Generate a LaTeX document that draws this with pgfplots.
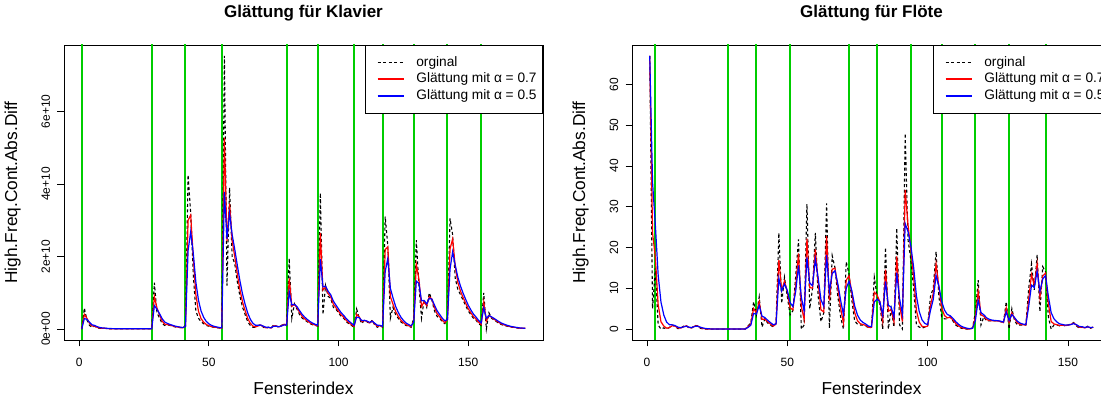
\documentclass[border=0pt]{standalone}
\usepackage{fontspec}
\setmainfont{Liberation Sans}
\usepackage{pgfplots}
\usepackage{pgfplotstable}
\pgfplotsset{compat=1.18}
\definecolor{grn}{RGB}{0,205,0}

\pgfplotstableread{
x o r b
1 0 0 0
2 .58 .406 .29
3 .25 .297 .27
4 .1 .159 .185
5 .05 .083 .118
6 .08 .081 .099
7 .03 .045 .065
8 .02 .028 .042
9 .02 .022 .031
10 .02 .02 .026
11 .01 .013 .018
12 .01 .011 .014
13 .01 .01 .012
14 .01 .01 .011
15 .01 .01 .01
16 .01 .01 .01
17 .01 .01 .01
18 .01 .01 .01
19 .01 .01 .01
20 .01 .01 .01
21 .01 .01 .01
22 .01 .01 .01
23 .01 .01 .01
24 .01 .01 .01
25 .01 .01 .01
26 .01 .01 .01
27 .01 .01 .01
28 .01 .01 .01
29 1.28 .899 .645
30 .45 .585 .548
31 .3 .386 .424
32 .15 .221 .287
33 .1 .136 .194
34 .12 .125 .157
35 .1 .108 .128
36 .08 .088 .104
37 .06 .068 .082
38 .05 .055 .066
39 .04 .045 .053
40 .03 .035 .042
41 .1 .081 .071
42 4.25 3.0 2.161
43 3.2 3.14 2.68
44 1.5 1.992 2.09
45 .5 .948 1.295
46 .3 .494 .798
47 .2 .288 .499
48 .15 .191 .325
49 .1 .127 .212
50 .08 .094 .146
51 .06 .07 .103
52 .05 .056 .077
53 .04 .045 .058
54 .03 .034 .044
55 .02 .024 .032
56 7.53 5.278 3.781
57 1.2 2.423 2.49
58 3.9 3.457 3.195
59 2.0 2.437 2.598
60 1.8 1.991 2.199
61 1.3 1.507 1.75
62 .9 1.082 1.325
63 .6 .745 .963
64 .4 .504 .681
65 .2 .291 .441
66 .1 .157 .27
67 .05 .082 .16
68 .05 .06 .105
69 .1 .088 .103
70 .12 .11 .111
71 .05 .068 .081
72 .02 .034 .05
73 .05 .045 .05
74 .02 .028 .035
75 .12 .092 .078
76 .08 .084 .079
77 .05 .06 .065
78 .1 .088 .083
79 .15 .131 .116
80 .1 .109 .108
81 1.95 1.398 1.029
82 .3 .629 .665
83 .7 .679 .682
84 .55 .589 .616
85 .4 .457 .508
86 .3 .347 .404
87 .25 .279 .327
88 .2 .224 .264
89 .15 .172 .207
90 .12 .136 .164
91 .1 .111 .132
92 .08 .089 .106
93 3.75 2.652 1.928
94 .4 1.076 1.164
95 1.2 1.163 1.182
96 .9 .979 1.041
97 .85 .889 .945
98 .6 .687 .773
99 .55 .591 .661
100 .45 .492 .556
101 .35 .393 .453
102 .3 .328 .377
103 .2 .238 .288
104 .15 .176 .219
105 .1 .123 .16
106 .05 .072 .105
107 .55 .407 .327
108 .3 .332 .314
109 .15 .205 .232
110 .25 .237 .241
111 .2 .211 .22
112 .15 .168 .185
113 .25 .225 .218
114 .1 .138 .159
115 .05 .076 .105
116 .1 .093 .102
117 .05 .063 .076
118 3.1 2.189 1.588
119 2.3 2.267 1.944
120 .3 .89 1.122
121 .6 .687 .861
122 .4 .486 .63
123 .3 .356 .465
124 .2 .247 .333
125 .15 .179 .241
126 .1 .124 .17
127 .08 .093 .125
128 .05 .063 .088
129 .3 .229 .194
130 2.45 1.784 1.322
131 1.2 1.375 1.261
132 .3 .623 .78
133 .8 .747 .79
134 .6 .644 .695
135 1.0 .893 .848
136 .8 .828 .824
137 .5 .598 .662
138 .35 .424 .506
139 .3 .337 .403
140 .2 .241 .302
141 .15 .177 .226
142 .3 .263 .263
143 3.05 2.214 1.657
144 2.6 2.484 2.129
145 1.4 1.725 1.764
146 1.1 1.288 1.432
147 .95 1.051 1.191
148 .8 .875 .996
149 .65 .718 .823
150 .5 .565 .661
151 .4 .45 .531
152 .3 .345 .415
153 .25 .279 .333
154 .15 .189 .241
155 .1 .127 .171
156 1.0 .738 .585
157 0 .221 .293
158 .45 .381 .371
159 .3 .324 .336
160 .25 .272 .293
161 .2 .222 .246
162 .15 .172 .198
163 .12 .136 .159
164 .1 .111 .13
165 .08 .089 .105
166 .06 .069 .082
167 .05 .056 .066
168 .04 .045 .053
169 .03 .035 .042
170 .02 .024 .031
171 .02 .021 .026
172 .02 .02 .023
}\klavier

\pgfplotstableread{
x o r b
1 67 67 67
2 5 23.6 36
3 15 17.58 25.5
4 1 5.97 13.25
5 0 1.79 6.63
6 .3 .75 3.46
7 0 .225 1.73
8 .4 .35 1.07
9 1 .8 1.03
10 .7 .73 .87
11 .1 .29 .48
12 .2 .23 .34
13 .7 .56 .52
14 .9 .8 .71
15 .2 .38 .46
16 .3 .32 .38
17 .9 .73 .64
18 .8 .78 .72
19 .2 .37 .46
20 .05 .15 .26
21 0 .045 .13
22 0 .01 .07
23 0 0 .03
24 0 0 .02
25 0 0 .01
26 0 0 0
27 0 0 0
28 0 0 0
29 0 0 0
30 0 0 0
31 0 0 0
32 0 0 0
33 0 0 0
34 0 0 0
35 0 0 0
36 .8 .56 .4
37 1.5 1.22 .95
38 6.7 5.06 3.83
39 3.5 3.97 3.67
40 7.9 6.72 5.79
41 .5 2.37 3.15
42 2.5 2.46 2.83
43 1.5 1.79 2.17
44 1 1.24 1.59
45 .5 .72 1.05
46 1.5 1.27 1.28
47 23.6 16.9 12.44
48 6.3 9.48 9.37
49 12.7 11.73 11.04
50 8 9.12 9.52
51 3.5 5.19 6.51
52 4.5 4.71 5.51
53 13 10.51 9.26
54 22 18.55 15.63
55 0 5.57 7.82
56 1 2.37 4.41
57 30.7 22.2 17.55
58 5 10.16 11.28
59 10 10.05 10.64
60 23.6 19.54 17.12
61 8 11.46 12.56
62 1.8 4.7 7.18
63 4 4.21 5.59
64 30.8 22.82 18.2
65 .2 6.99 9.2
66 18 14.7 13.6
67 15 14.91 14.3
68 8 10.07 11.15
69 3 5.12 7.08
70 0 1.54 3.54
71 16.5 12.01 10.02
72 13.5 13.05 11.76
73 7 8.82 9.38
74 2 4.05 5.69
75 1.2 2.06 3.45
76 1 1.32 2.22
77 1 1.1 1.61
78 .8 .89 1.21
79 .2 .41 .7
80 .5 .47 .6
81 12.7 9.03 6.65
82 8 8.31 7.33
83 6 6.69 6.67
84 0 2.01 3.34
85 20 14.6 11.67
86 0 4.38 5.84
87 5 4.81 5.42
88 .5 1.79 2.96
89 24.7 17.83 13.83
90 1 6.05 7.42
91 0 1.82 3.71
92 48 34.15 25.86
93 22 25.65 23.93
94 17 19.6 20.47
95 10 12.88 15.24
96 1 4.56 8.12
97 .5 1.72 4.31
98 .2 .66 2.26
99 .5 .55 1.38
100 .8 .73 1.09
101 8 5.82 4.55
102 10 8.75 7.28
103 19 15.93 13.14
104 8 10.38 10.57
105 3 5.21 6.79
106 2.5 3.31 4.65
107 2.5 2.74 3.58
108 3 2.92 3.29
109 2 2.28 2.65
110 1 1.38 1.83
111 .5 .76 1.17
112 .2 .37 .69
113 .1 .18 .4
114 0 .05 .2
115 0 .02 .1
116 .3 .22 .2
117 4 2.87 2.1
118 12 9.26 7.05
119 1 3.48 4.03
120 3 3.14 3.52
121 2 2.34 2.76
122 2 2.1 2.38
123 2 2.03 2.19
124 2 2.01 2.1
125 2 2 2.05
126 1.8 1.86 1.93
127 1.5 1.61 1.72
128 6.7 5.17 4.21
129 0 1.55 2.1
130 5 3.97 3.55
131 2 2.59 2.78
132 1 1.48 1.89
133 1 1.14 1.45
134 1 1.04 1.22
135 1 1.01 1.11
136 10 7.3 5.56
137 16 13.39 10.78
138 9.6 10.74 10.19
139 18.2 15.96 14.2
140 4.3 7.8 9.25
141 15.3 13.05 12.28
142 14 13.72 13.14
143 3 6.22 8.07
144 0 1.87 4.04
145 1 1.26 2.52
146 1 1.08 1.76
147 .8 .88 1.28
148 1 .96 1.14
149 .8 .85 .97
150 1 .96 .99
151 1.2 1.13 1.1
152 1.6 1.46 1.35
153 .8 1.0 1.08
154 .2 .44 .64
155 .5 .48 .57
156 .2 .28 .39
157 .7 .57 .55
158 .2 .31 .38
159 .5 .44 .44
}\floete

\pgfplotsset{
  every axis plot post/.append style={
    legend image code/.code={\path (0pt,0pt); \draw[##1, line width=1.5pt] (8pt,0pt) -- (34pt,0pt);}},
  rstyle/.style={
    scale only axis, width=479pt, height=295pt, anchor=south west,
    axis line style={black, line width=0.8pt},
    tick align=outside, major tick length=6.5pt,
    tick style={black, line width=0.8pt},
    xtick pos=left, ytick pos=left,
    xtick={0,50,100,150}, xticklabels={0,50,100,150},
    xticklabel style={font=\fontsize{12}{14}\selectfont, anchor=base, yshift=-20pt},
    yticklabel style={font=\fontsize{12}{14}\selectfont, xshift=-7.5pt, rotate=90, anchor=base},
    title style={font=\bfseries\fontsize{17}{20}\selectfont, at={(axis description cs:0.5,1.0712)}, anchor=base},
    xlabel style={font=\fontsize{17.3}{20}\selectfont, at={(axis description cs:0.5,-0.1831)}, anchor=base},
    ylabel style={font=\fontsize{17.3}{20}\selectfont, at={(axis description cs:-0.0981,0.5)}, anchor=base},
    xlabel={Fensterindex}, ylabel={High.Freq.Cont.Abs.Diff},
    legend cell align=left,
    legend style={at={(1,1)}, anchor=north east, draw=black, line width=0.8pt, fill=white,
      font=\fontsize{13.7}{16}\selectfont, inner xsep=4pt, inner ysep=8.8pt, row sep=0pt,
      nodes={inner sep=2pt, text height=10pt, text depth=2.7pt},
      /tikz/every odd column/.append style={column sep=10pt}},
    clip=true,
  },
  orig/.style={draw=black, line width=1.1pt, dash pattern=on 3pt off 2.5pt},
  gline/.style={draw=grn, line width=2pt, forget plot},
}

\begin{document}
\begin{tikzpicture}
\path[use as bounding box] (0,0) rectangle (1101pt,396pt);
\begin{axis}[rstyle, at={(64pt,56pt)},
  xmin=-5.84, xmax=178.84, ymin=-0.3012, ymax=7.8312,
  ytick={0,2,4,6}, yticklabels={0e+00,2e+10,4e+10,6e+10},
  title={Glättung für Klavier}]
\pgfplotsinvokeforeach{1,28,41,55,80,92,106,117,129,142,155}{
  \addplot[gline] coordinates {(#1,-1) (#1,9)};
}
\addplot[orig] table[x=x,y=o]{\klavier};
\addlegendentry{orginal}
\addplot[draw=red, line width=1.2pt] table[x=x,y=r]{\klavier};
\addlegendentry{Glättung mit α = 0.7}
\addplot[draw=blue, line width=1.2pt] table[x=x,y=b]{\klavier};
\addlegendentry{Glättung mit α = 0.5}
\end{axis}
\begin{axis}[rstyle, at={(632pt,56pt)},
  xmin=-5.32, xmax=165.32, ymin=-2.68, ymax=69.68,
  ytick={0,10,20,30,40,50,60}, yticklabels={0,10,20,30,40,50,60},
  title={Glättung für Flöte}]
\pgfplotsinvokeforeach{3,29,39,51,72,82,94,105,117,129,142}{
  \addplot[gline] coordinates {(#1,-10) (#1,80)};
}
\addplot[orig] table[x=x,y=o]{\floete};
\addlegendentry{orginal}
\addplot[draw=red, line width=1.2pt] table[x=x,y=r]{\floete};
\addlegendentry{Glättung mit α = 0.7}
\addplot[draw=blue, line width=1.2pt] table[x=x,y=b]{\floete};
\addlegendentry{Glättung mit α = 0.5}
\end{axis}
\end{tikzpicture}
\end{document}
